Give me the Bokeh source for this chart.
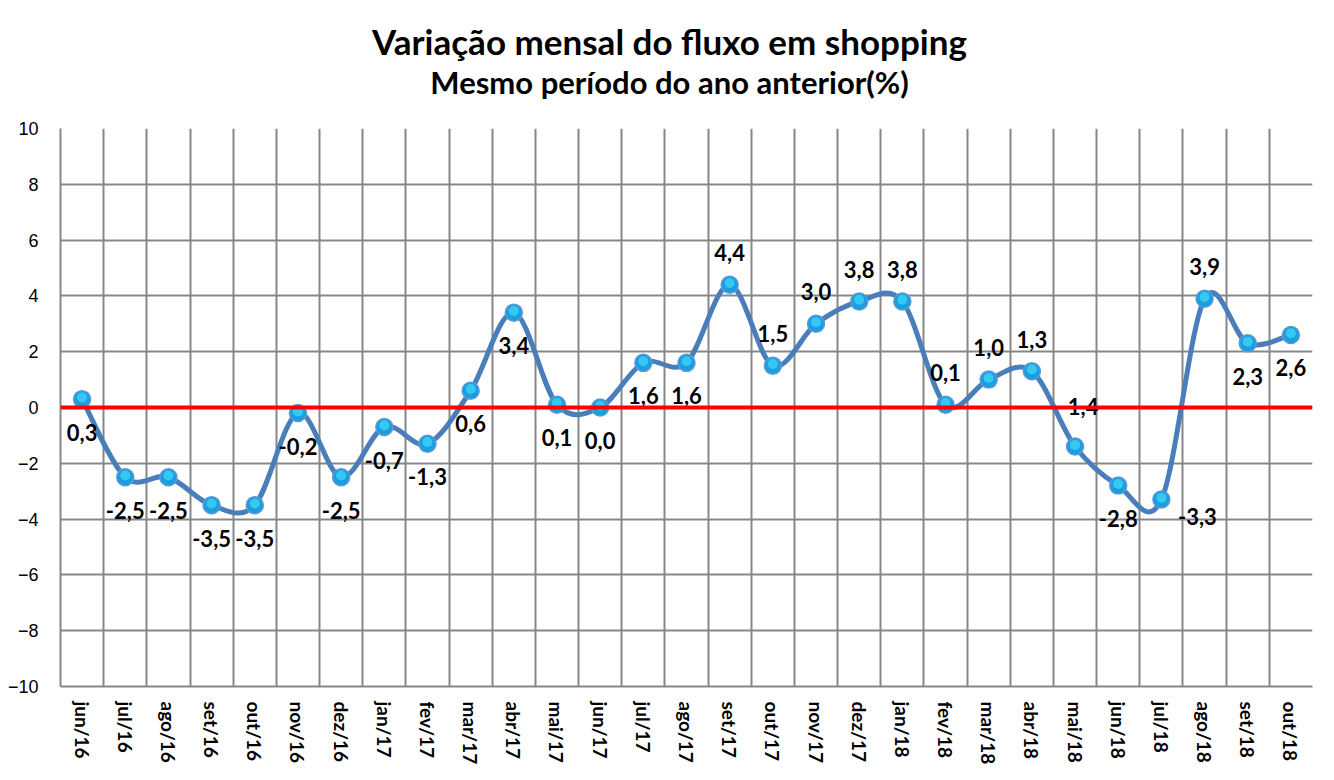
from bokeh.plotting import figure
from bokeh.layouts import column
from bokeh.models import FixedTicker, Span, ColumnDataSource, Range1d
from bokeh.core.properties import value
from bokeh.embed import file_html
from bokeh.resources import INLINE

months = ["jun/16", "jul/16", "ago/16", "set/16", "out/16", "nov/16", "dez/16",
          "jan/17", "fev/17", "mar/17", "abr/17", "mai/17", "jun/17", "jul/17",
          "ago/17", "set/17", "out/17", "nov/17", "dez/17", "jan/18", "fev/18",
          "mar/18", "abr/18", "mai/18", "jun/18", "jul/18", "ago/18", "set/18", "out/18"]
values = [0.3, -2.5, -2.5, -3.5, -3.5, -0.2, -2.5, -0.7, -1.3, 0.6, 3.4, 0.1, 0.0, 1.6,
          1.6, 4.4, 1.5, 3.0, 3.8, 3.8, 0.1, 1.0, 1.3, -1.4, -2.8, -3.3, 3.9, 2.3, 2.6]
label_place = ["below"] * 15 + ["above"] * 8 + ["above2", "below", "right", "above", "below", "below"]
y_ticks = list(range(-10, 11, 2))
title_text = "Variação mensal do fluxo em shopping"
subtitle_text = "Mesmo período do ano anterior(%)"

n = len(values)
xs = list(range(n))
W = 1326
TH = 108

# ---- title strip ----
t = figure(width=W, height=TH, output_backend="svg", toolbar_location=None,
           x_range=Range1d(0, W), y_range=Range1d(0, TH),
           x_axis_type=None, y_axis_type=None,
           min_border=0, outline_line_color=None)
t.grid.visible = False
t.text(x=[645], y=[TH - 40], text=[title_text], text_align="center", text_baseline="middle",
       text_font=value("Lato"), text_font_style="bold", text_font_size="35px", text_color="black")
t.text(x=[645], y=[TH - 81], text=[subtitle_text], text_align="center", text_baseline="middle",
       text_font=value("Lato"), text_font_style="bold", text_font_size="31px", text_color="black")

# ---- chart ----
p = figure(width=W, height=772 - TH, output_backend="svg", toolbar_location=None,
           x_range=(-0.5, n - 0.5), y_range=(-10, 10),
           min_border_left=60, min_border_right=14, min_border_bottom=86, min_border_top=128 - TH,
           background_fill_color="white", border_fill_color="white")
p.outline_line_color = None

# grids
p.xgrid.ticker = FixedTicker(ticks=[i - 0.5 for i in range(n + 1)])
p.ygrid.ticker = FixedTicker(ticks=y_ticks)
for g in (p.xgrid, p.ygrid):
    g.grid_line_color = "#878787"
    g.grid_line_width = 2

# axes
p.yaxis.ticker = FixedTicker(ticks=y_ticks)
p.yaxis.major_label_text_font = "Liberation Sans"
p.yaxis.major_label_text_font_size = "18px"
p.yaxis.major_label_text_color = "black"
p.yaxis.major_tick_line_color = None
p.yaxis.minor_tick_line_color = None
p.yaxis.axis_line_color = "#878787"
p.yaxis.axis_line_width = 2
p.yaxis.major_label_standoff = 16

p.xaxis.ticker = FixedTicker(ticks=xs)
p.xaxis.major_label_overrides = {i: m for i, m in enumerate(months)}
p.xaxis.major_label_orientation = "vertical"
p.xaxis.major_label_text_font = "Lato"
p.xaxis.major_label_text_font_style = "bold"
p.xaxis.major_label_text_font_size = "19px"
p.xaxis.major_label_text_color = "black"
p.xaxis.major_tick_line_color = None
p.xaxis.minor_tick_line_color = None
p.xaxis.axis_line_color = "#878787"
p.xaxis.axis_line_width = 2
p.xaxis.major_label_standoff = 9

# zero line
p.add_layout(Span(location=0, dimension="width", line_color="#ff0000", line_width=4))

# smoothed line (Bezier segments through the data points)
def pt(i):
    i = max(0, min(n - 1, i))
    return xs[i], values[i]

x0, y0, x1, y1, cx0, cy0, cx1, cy1 = [], [], [], [], [], [], [], []
for i in range(n - 1):
    pa, pb = pt(i), pt(i + 1)
    pm, pn = pt(i - 1), pt(i + 2)
    x0.append(pa[0]); y0.append(pa[1]); x1.append(pb[0]); y1.append(pb[1])
    cx0.append(pa[0] + (pb[0] - pm[0]) / 6); cy0.append(pa[1] + (pb[1] - pm[1]) / 6)
    cx1.append(pb[0] - (pn[0] - pa[0]) / 6); cy1.append(pb[1] - (pn[1] - pa[1]) / 6)
p.bezier(x0=x0, y0=y0, x1=x1, y1=y1, cx0=cx0, cy0=cy0, cx1=cx1, cy1=cy1,
         line_color="#4a7ebb", line_width=5)

# markers
p.scatter(xs, values, size=17, fill_color="#1a9ee0", line_color="#5a9ad6", line_width=1.5)
p.scatter(xs, [v + 0.06 for v in values], size=10, fill_color="#3fd2f6", line_color=None, fill_alpha=0.8)

# labels
offs = {"below": (0, 33), "above": (0, -32), "above2": (4, -40), "right": (36, 17)}
lab = [f"{v:.1f}".replace(".", ",") for v in values]
src = ColumnDataSource(dict(x=xs, y=values, t=lab,
                            dx=[offs[k][0] for k in label_place],
                            dy=[offs[k][1] for k in label_place]))
p.text(x="x", y="y", text="t", source=src, x_offset="dx", y_offset="dy",
       text_align="center", text_baseline="middle",
       text_font=value("Lato"), text_font_style="bold", text_font_size="22px",
       text_color="black")

layout = column(t, p, spacing=0)
open("out.html", "w").write(file_html(layout, INLINE))
